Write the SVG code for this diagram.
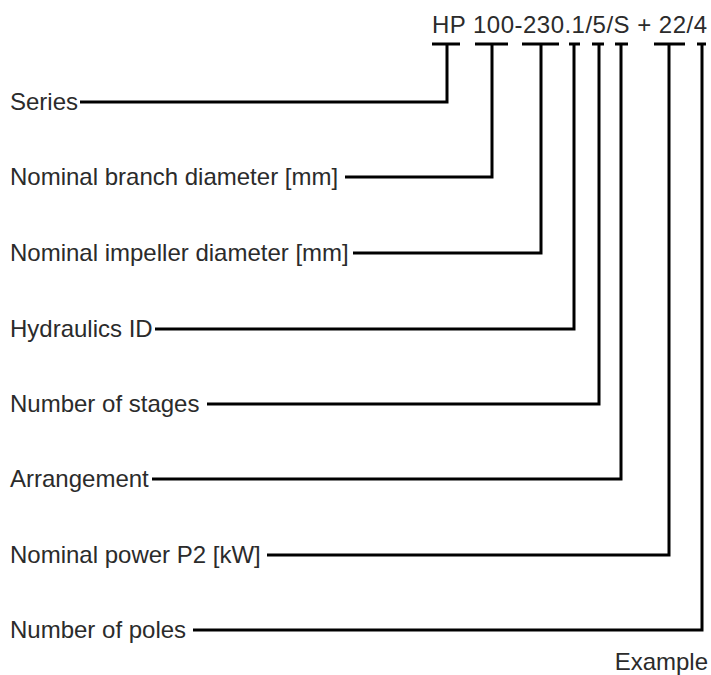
<svg xmlns="http://www.w3.org/2000/svg" width="711" height="675" viewBox="0 0 711 675">
<style>
text{font-family:"Liberation Sans",Arial,sans-serif;font-size:24px;fill:#2b2b2b}
.c{fill:none;stroke:#000;stroke-width:3;stroke-linejoin:miter;stroke-linecap:butt}
</style>
<rect width="711" height="675" fill="#fff"/>
<g id="code"><text x="432" y="33" textLength="275" lengthAdjust="spacing">HP 100-230.1/5/S + 22/4</text></g>
<g id="series"><text x="10" y="110">Series</text></g>
<g id="branch"><text x="10" y="185">Nominal branch diameter [mm]</text></g>
<g id="impeller"><text x="10" y="261">Nominal impeller diameter [mm]</text></g>
<g id="hydraulics"><text x="10" y="337">Hydraulics ID</text></g>
<g id="stages"><text x="10" y="412">Number of stages</text></g>
<g id="arrangement"><text x="10" y="487">Arrangement</text></g>
<g id="power"><text x="10" y="563">Nominal power P2 [kW]</text></g>
<g id="poles"><text x="10" y="638">Number of poles</text></g>
<g id="example"><text x="708" y="670" text-anchor="end">Example</text></g>
<g id="connectors" class="c">
<path d="M432,44H460M447,44V102H80"/>
<path d="M475,44H508M492,44V177H345"/>
<path d="M522,44H559M541,44V253H353"/>
<path d="M569,44H580M574,44V329H155"/>
<path d="M592,44H604M599,44V404H207"/>
<path d="M615,44H628M621,44V479H152"/>
<path d="M654,44H685M669,44V555H267"/>
<path d="M697,44H706M702,44V630H193"/>
</g>
</svg>
